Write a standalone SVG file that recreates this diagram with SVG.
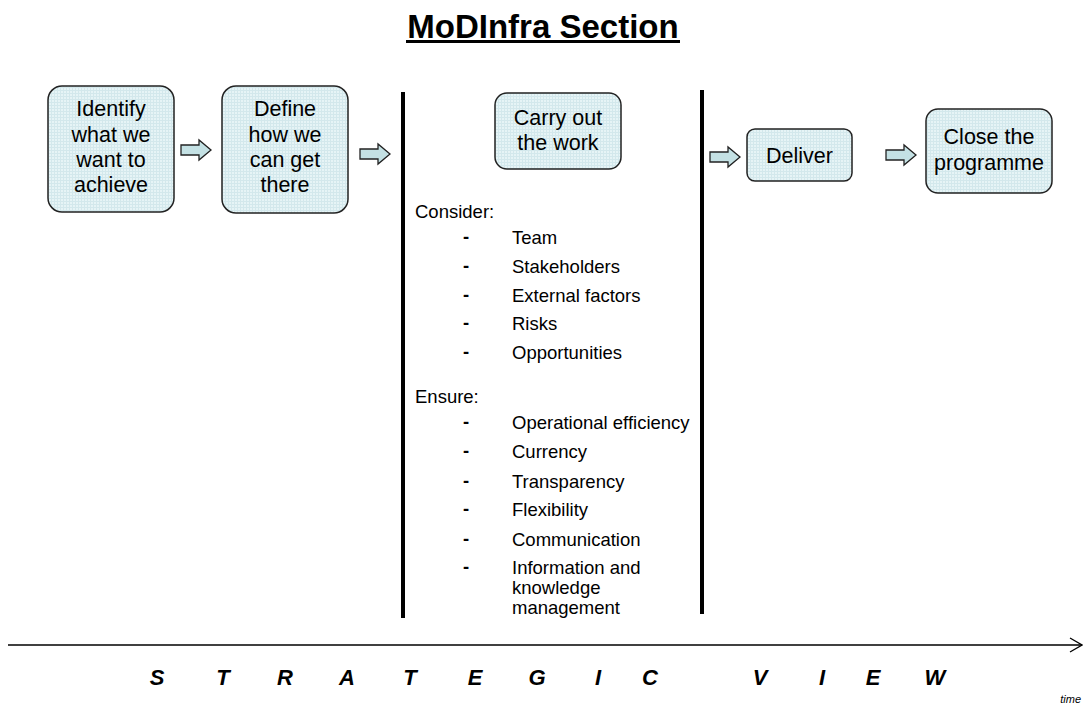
<svg xmlns="http://www.w3.org/2000/svg" width="1087" height="708" viewBox="0 0 1087 708">
<defs>
<pattern id="grid" width="3" height="3" patternUnits="userSpaceOnUse">
<rect width="3" height="3" fill="#e6f4f6"/>
<path d="M0 0.5H3M0.5 0V3" stroke="#d3e8ec" stroke-width="1"/>
</pattern>
<marker id="open" markerWidth="14" markerHeight="16" refX="13" refY="8" orient="auto" markerUnits="userSpaceOnUse">
<path d="M1 1L13 8L1 15" fill="none" stroke="#000" stroke-width="1.3"/>
</marker>
</defs>
<style>
.box{fill:url(#grid);stroke:#222;stroke-width:1.5}
.bt{font-family:"Liberation Sans",Arial,sans-serif;font-size:21.5px;fill:#000;text-anchor:middle}
.lt{font-family:"Liberation Sans",Arial,sans-serif;font-size:18.5px;fill:#000}
.dash{font-weight:bold}
.ba{fill:#c4e1e4;stroke:#222;stroke-width:1.3}
.sv{font-family:"Liberation Sans",Arial,sans-serif;font-size:22px;font-weight:bold;font-style:italic;text-anchor:middle}
.ttl{font-family:"Liberation Sans",Arial,sans-serif;font-size:33px;font-weight:bold;text-anchor:middle}
</style>
<text class="ttl" x="543" y="38">MoDInfra Section</text>
<rect x="406" y="40" width="274" height="3" fill="#000"/>

<g id="n1"><rect class="box" x="48" y="86" width="126" height="126" rx="14"/>
<text class="bt" x="111" y="116">Identify</text><text class="bt" x="111" y="142">what we</text><text class="bt" x="111" y="167">want to</text><text class="bt" x="111" y="192">achieve</text></g>
<g id="n2"><rect class="box" x="222" y="86" width="126" height="127" rx="14"/>
<text class="bt" x="285" y="116">Define</text><text class="bt" x="285" y="142">how we</text><text class="bt" x="285" y="167">can get</text><text class="bt" x="285" y="192">there</text></g>
<g id="n3"><rect class="box" x="495" y="93" width="126" height="76" rx="12"/>
<text class="bt" x="558" y="125">Carry out</text><text class="bt" x="558" y="150">the work</text></g>
<g id="n4"><rect class="box" x="747" y="129" width="105" height="52" rx="8"/>
<text class="bt" x="799.5" y="163">Deliver</text></g>
<g id="n5"><rect class="box" x="926" y="109" width="126" height="84" rx="12"/>
<text class="bt" x="989" y="144">Close the</text><text class="bt" x="989" y="170">programme</text></g>

<g id="connectors">
<path class="ba" d="M181 145H199V140L211 150L199 160V155H181Z"/>
<path class="ba" d="M360 149H378V144L390 154L378 164V159H360Z"/>
<path class="ba" d="M710 152H728V147L740 157L728 167V162H710Z"/>
<path class="ba" d="M886 150H904V145L916 155L904 165V160H886Z"/>
<line x1="8" y1="645" x2="1082" y2="645" stroke="#000" stroke-width="1.5" marker-end="url(#open)"/>
</g>

<rect x="401" y="92" width="4" height="526" fill="#000"/>
<rect x="700" y="90" width="4" height="524" fill="#000"/>

<g id="list">
<text class="lt" x="415" y="218">Consider:</text>
<text class="lt dash" x="463" y="243">-</text><text class="lt" x="512" y="244">Team</text>
<text class="lt dash" x="463" y="272">-</text><text class="lt" x="512" y="273">Stakeholders</text>
<text class="lt dash" x="463" y="301">-</text><text class="lt" x="512" y="302">External factors</text>
<text class="lt dash" x="463" y="329">-</text><text class="lt" x="512" y="330">Risks</text>
<text class="lt dash" x="463" y="358">-</text><text class="lt" x="512" y="359">Opportunities</text>
<text class="lt" x="415" y="403">Ensure:</text>
<text class="lt dash" x="463" y="428">-</text><text class="lt" x="512" y="429">Operational efficiency</text>
<text class="lt dash" x="463" y="457">-</text><text class="lt" x="512" y="458">Currency</text>
<text class="lt dash" x="463" y="487">-</text><text class="lt" x="512" y="488">Transparency</text>
<text class="lt dash" x="463" y="515">-</text><text class="lt" x="512" y="516">Flexibility</text>
<text class="lt dash" x="463" y="545">-</text><text class="lt" x="512" y="546">Communication</text>
<text class="lt dash" x="463" y="573">-</text><text class="lt" x="512" y="574">Information and</text>
<text class="lt" x="512" y="594">knowledge</text>
<text class="lt" x="512" y="614">management</text>
</g>

<g id="strategic">
<text class="sv" x="157" y="685">S</text><text class="sv" x="223" y="685">T</text><text class="sv" x="285" y="685">R</text><text class="sv" x="347" y="685">A</text><text class="sv" x="410" y="685">T</text><text class="sv" x="475" y="685">E</text><text class="sv" x="537" y="685">G</text><text class="sv" x="598" y="685">I</text><text class="sv" x="650" y="685">C</text><text class="sv" x="760" y="685">V</text><text class="sv" x="822" y="685">I</text><text class="sv" x="873" y="685">E</text><text class="sv" x="935" y="685">W</text>
</g>
<text x="1081" y="703" font-family="Liberation Sans,Arial,sans-serif" font-size="11" font-style="italic" text-anchor="end">time</text>
</svg>
